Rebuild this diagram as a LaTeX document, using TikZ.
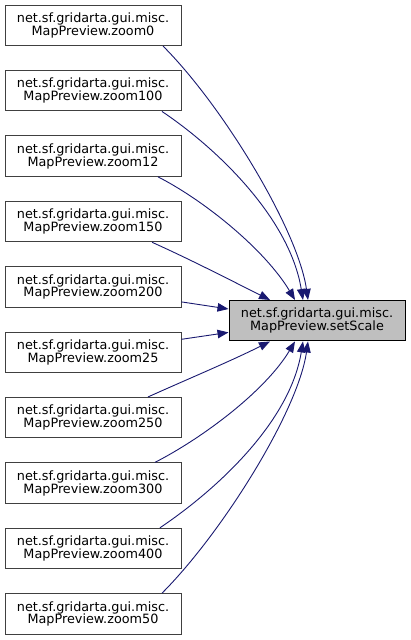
\documentclass[tikz,border=0pt]{standalone}
\usepackage{fontspec}
\setmainfont{DejaVu Sans}
\usetikzlibrary{arrows.meta}
\definecolor{edgeblue}{HTML}{191970}
\definecolor{boxline}{HTML}{404040}
\definecolor{boxfill}{HTML}{BFBFBF}
\tikzset{
  fn/.style={draw=boxline, line width=1pt, fill=white, minimum width=176pt, minimum height=40.5pt,
    inner sep=0pt, align=center, font=\fontsize{12.8}{12.8}\selectfont},
  target/.style={fn, draw=black, fill=boxfill},
  call/.style={draw=edgeblue, line width=0.9pt, -{Triangle[length=11pt,width=8.5pt]}, edgeblue},
}
\begin{document}
\begin{tikzpicture}[x=1pt,y=-1pt]
\useasboundingbox (0,0) rectangle (411,640);
\node[target] (s) at (317,320.7) {net.sf.gridarta.gui.misc.\\MapPreview.setScale};
\node[fn] (z0)   at (93,25.3)  {net.sf.gridarta.gui.misc.\\MapPreview.zoom0};
\node[fn] (z100) at (93,90.7)  {net.sf.gridarta.gui.misc.\\MapPreview.zoom100};
\node[fn] (z12)  at (93,156.1) {net.sf.gridarta.gui.misc.\\MapPreview.zoom12};
\node[fn] (z150) at (93,221.5) {net.sf.gridarta.gui.misc.\\MapPreview.zoom150};
\node[fn] (z200) at (93,286.9) {net.sf.gridarta.gui.misc.\\MapPreview.zoom200};
\node[fn] (z25)  at (93,352.3) {net.sf.gridarta.gui.misc.\\MapPreview.zoom25};
\node[fn] (z250) at (93,417.7) {net.sf.gridarta.gui.misc.\\MapPreview.zoom250};
\node[fn] (z300) at (93,483.1) {net.sf.gridarta.gui.misc.\\MapPreview.zoom300};
\node[fn] (z400) at (93,548.5) {net.sf.gridarta.gui.misc.\\MapPreview.zoom400};
\node[fn] (z50)  at (93,613.9) {net.sf.gridarta.gui.misc.\\MapPreview.zoom50};

\draw[call] ([xshift=70pt]z0.south) .. controls +(60,60) and +(-10,-70) .. ([xshift=-9pt]s.north);
\draw[call] ([xshift=69pt]z100.south) .. controls +(58,39) and +(-13,-80) .. ([xshift=-14pt]s.north);
\draw[call] ([xshift=65pt]z12.south) .. controls +(47,24) and +(-30,-50) .. ([xshift=-22pt]s.north);
\draw[call] ([xshift=59pt]z150.south) .. controls +(40,18) and +(-40,-20) .. ([xshift=-47pt]s.north);
\draw[call] ([yshift=-15pt]z200.east) -- ([yshift=11.7pt]s.west);
\draw[call] ([yshift=13pt]z25.east) -- ([yshift=-11.7pt]s.west);
\draw[call] ([xshift=55pt]z250.north) .. controls +(40,-18) and +(-40,20) .. ([xshift=-47pt]s.south);
\draw[call] ([xshift=62pt]z300.north) .. controls +(47,-24) and +(-30,50) .. ([xshift=-22pt]s.south);
\draw[call] ([xshift=67pt]z400.north) .. controls +(58,-39) and +(-13,80) .. ([xshift=-14pt]s.south);
\draw[call] ([xshift=69pt]z50.north) .. controls +(60,-60) and +(-10,70) .. ([xshift=-9pt]s.south);
\end{tikzpicture}
\end{document}
